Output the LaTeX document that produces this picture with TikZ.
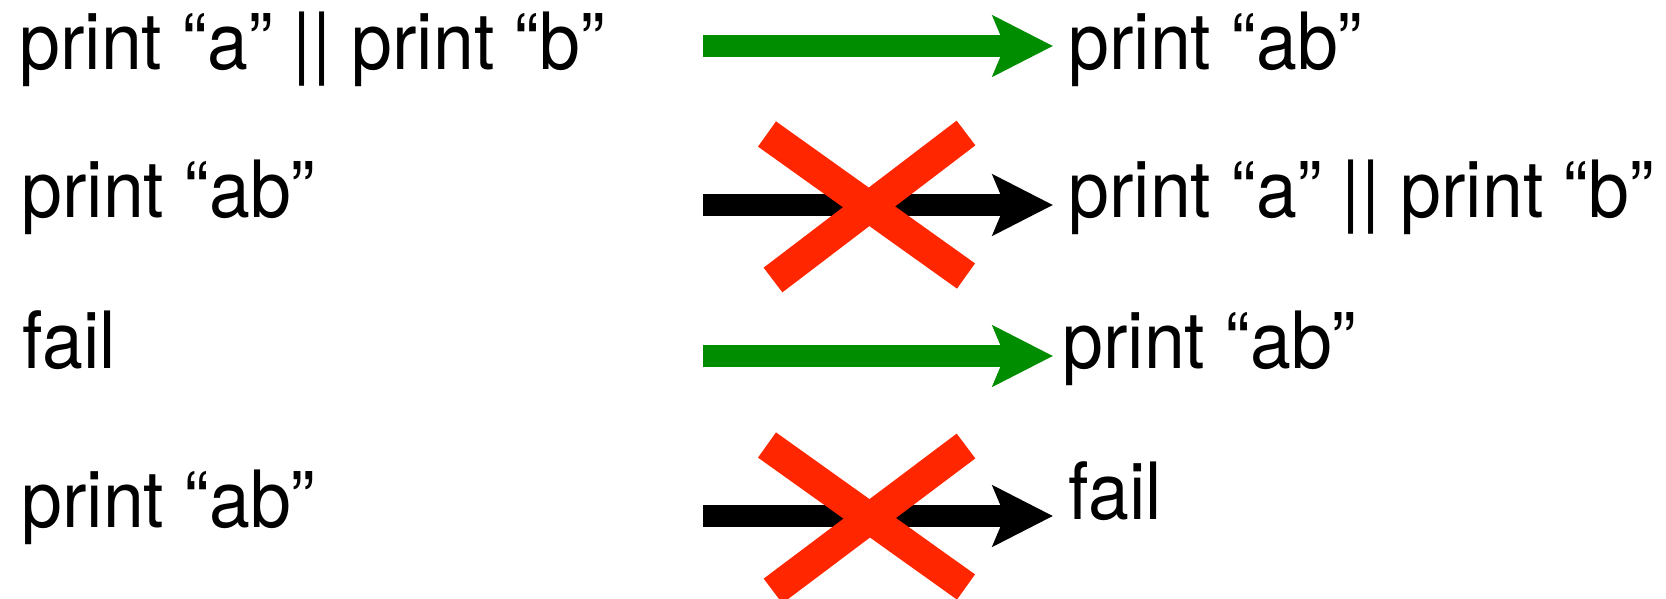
\documentclass[tikz,border=0pt]{standalone}
\usepackage{fontspec}
\setmainfont{TeX Gyre Heros}[FakeStretch=0.93]
\usetikzlibrary{arrows.meta}
\definecolor{okgreen}{RGB}{0,142,0}
\definecolor{nored}{RGB}{255,38,0}
\tikzstyle{txt} = [anchor=base west, inner sep=0pt, font=\fontsize{39.5}{46}\selectfont]
\tikzstyle{res} = [txt, inner xsep=7.5pt]
\tikzstyle{arrow} = [line width=11pt, -{Stealth[length=30pt, width=30pt, inset=6pt]}]
\tikzstyle{good} = [arrow, draw=okgreen]
\tikzstyle{bad} = [arrow, draw=black]
\tikzstyle{cross} = [line width=15.5pt, draw=nored]

\begin{document}
\begin{tikzpicture}[x=0.5pt, y=-0.5pt]

    \useasboundingbox (0,0) rectangle (1666,599);

    \node (par) [txt] at (19,70) {print “a” || print “b”};
    \node (seq) [txt] at (21,218) {print “ab”};
    \node (fail) [txt] at (22,368) {fail};
    \node (seqb) [txt] at (21,527) {print “ab”};

    \node (seqr) [res] at (1053,70) {print “ab”};
    \node (parr) [res] at (1053,218) {print “a” || print “b”};
    \node (seqf) [res, inner xsep=4.5pt] at (1053,368) {print “ab”};
    \node (failr) [res] at (1053,519) {fail};

    \coordinate (s1) at (703,46);
    \coordinate (s2) at (703,205);
    \coordinate (s3) at (703,356);
    \coordinate (s4) at (703,516);

    \draw [good] (s1) -- (s1 -| seqr.west);
    \draw [bad] (s2) -- (s2 -| parr.west);
    \draw [good] (s3) -- (s3 -| seqf.west);
    \draw [bad] (s4) -- (s4 -| failr.west);

    \draw [cross] (767,134) -- (966,276);
    \draw [cross] (966,133) -- (773,280);
    \draw [cross] (767,445) -- (966,587);
    \draw [cross] (966,446) -- (773,591);

\end{tikzpicture}
\end{document}
